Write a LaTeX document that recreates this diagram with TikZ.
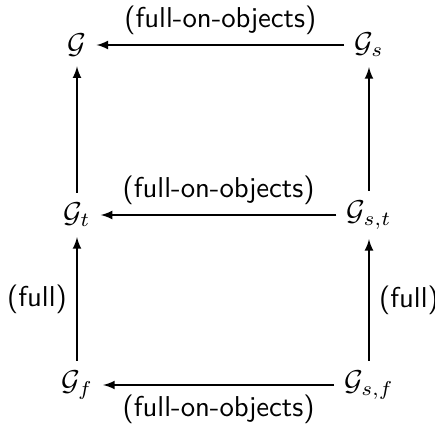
\documentclass[tikz,border=0pt]{standalone}
\usepackage{amsmath,amssymb,amsfonts}
\usepackage{tikz}

\begin{document}
\begin{tikzpicture}[x=0.348pt,y=-0.348pt,
  arr/.style={-latex},
  lab/.style={font=\sffamily}]
\useasboundingbox (0,0) rectangle (435,425);

% Objects
\node (G)   at (77,45)   {$\mathcal{G}$};
\node (Gs)  at (369,45)  {$\mathcal{G}_s$};
\node (Gt)  at (77,215)  {$\mathcal{G}_t$};
\node (Gst) at (369,215) {$\mathcal{G}_{s,t}$};
\node (Gf)  at (77,385)  {$\mathcal{G}_f$};
\node (Gsf) at (369,385) {$\mathcal{G}_{s,f}$};

% Horizontal maps
\draw[arr] (Gs) -- node[lab, above] {(full-on-objects)} (G);
\draw[arr] (Gst) -- node[lab, above] {(full-on-objects)} (Gt);
\draw[arr] (Gsf) -- node[lab, below] {(full-on-objects)} (Gf);

% Vertical maps
\draw[arr] (Gt) -- (G);
\draw[arr] (Gst) -- (Gs);
\draw[arr] (Gf) -- node[lab, left] {(full)} (Gt);
\draw[arr] (Gsf) -- node[lab, right] {(full)} (Gst);

\end{tikzpicture}
\end{document}
